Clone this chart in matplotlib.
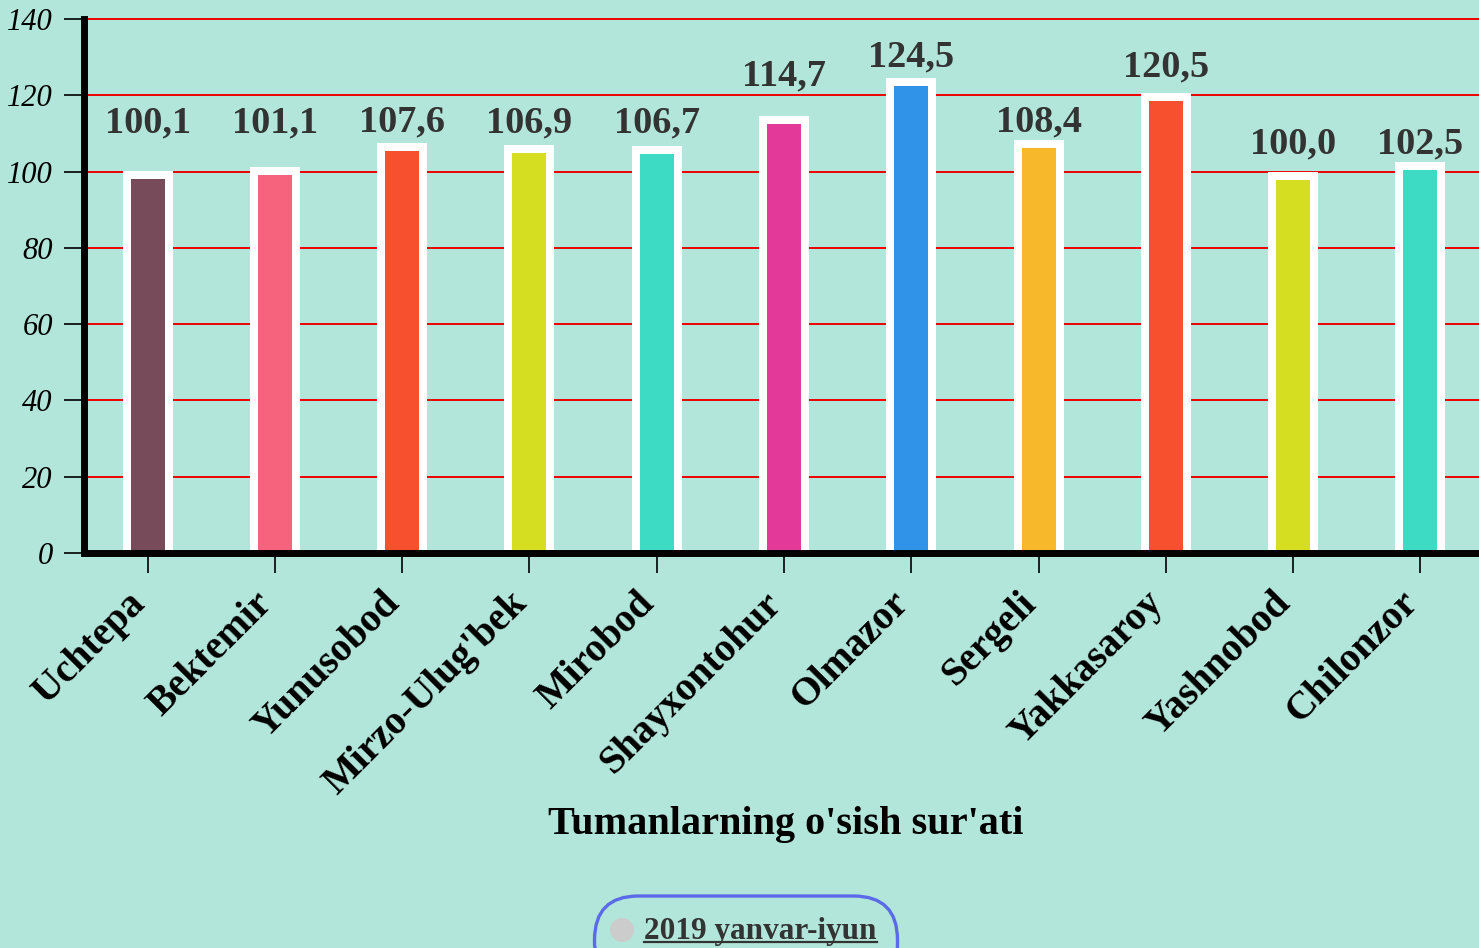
import matplotlib
matplotlib.use("Agg")
import matplotlib.pyplot as plt
from matplotlib.patches import FancyBboxPatch, Circle
from matplotlib.transforms import ScaledTranslation
import numpy as np

# data
districts = ["Uchtepa", "Bektemir", "Yunusobod", "Mirzo-Ulug'bek", "Mirobod",
             "Shayxontohur", "Olmazor", "Sergeli", "Yakkasaroy", "Yashnobod",
             "Chilonzor"]
growth = [100.1, 101.1, 107.6, 106.9, 106.7, 114.7, 124.5, 108.4, 120.5, 100.0, 102.5]
series_name = "2019 yanvar-iyun"
x_title = "Tumanlarning o'sish sur'ati"
y_ticks = [0, 20, 40, 60, 80, 100, 120, 140]

# styles
bar_colors = ["#774b59", "#f6637c", "#f7502e", "#d6de22", "#3ddbc3", "#e33999",
              "#3193e8", "#f7b82c", "#f7502e", "#d6de22", "#3ddbc3"]
label_gap_px = [39, 35, 11, 13, 14, 30, 12, 8, 17, 18, 9]   # label baseline above bar top
bg = "#b3e6da"
W, H = 1479, 948
dpi = 100

plt.rcParams["font.family"] = ["Liberation Serif", "DejaVu Serif"]

fig = plt.figure(figsize=(W / dpi, H / dpi), dpi=dpi, facecolor=bg)
left, right, bottom, top = 84, 1484, 553, 19
ax = fig.add_axes([left / W, 1 - bottom / H, (right - left) / W, (bottom - top) / H])
ax.set_facecolor(bg)

x = np.arange(len(districts))
band_px = (right - left) / len(districts)
px_per_unit = (bottom - top) / 140.0
border_px = 8

ax.bar(x, growth, width=50 / band_px, color="white", zorder=2)
inner = [v - border_px / px_per_unit for v in growth]
ax.bar(x, inner, width=34 / band_px, color=bar_colors, zorder=3)

for xi, v, g in zip(x, growth, label_gap_px):
    ax.annotate(f"{v:.1f}".replace(".", ","), (xi, v), xytext=(0, g * 0.72),
                textcoords="offset points", ha="center", va="baseline",
                fontsize=27.5, fontweight="bold", color="#333333", zorder=4)

ax.set_xlim(-0.5, len(districts) - 0.5)
ax.set_ylim(0, 140)
ax.set_yticks(y_ticks)
ax.set_yticklabels([str(t) for t in y_ticks], fontsize=22, fontstyle="italic")
ax.set_xticks(x)
ax.set_xticklabels(districts, rotation=45, ha="right", va="center",
                   rotation_mode="anchor", fontsize=28.5, fontweight="bold")
ax.tick_params(axis="y", length=14.4, width=1.2, pad=8, colors="black")
ax.tick_params(axis="x", length=14.4, width=1.2, pad=18, colors="black")
shift = ScaledTranslation(-8 / dpi, 0, fig.dpi_scale_trans)
for lab in ax.get_xticklabels():
    lab.set_transform(lab.get_transform() + shift)

ax.grid(axis="y", color="#ee0000", linewidth=1.4, zorder=1)
ax.set_axisbelow(True)
for gl in ax.get_ygridlines():
    gl.set_clip_on(False)
for s in ["top", "right"]:
    ax.spines[s].set_visible(False)
for s in ["left", "bottom"]:
    ax.spines[s].set_linewidth(5)
    ax.spines[s].set_color("black")
    ax.spines[s].set_zorder(5)

ax.set_xlabel(x_title, fontsize=29, fontweight="bold", va="baseline")
ax.xaxis.set_label_coords((786 - left) / (right - left), -(834 - bottom) / (bottom - top))

# legend pill, drawn on a pixel-space overlay
ov = fig.add_axes([0, 0, 1, 1], facecolor="none")
ov.set_xlim(0, W)
ov.set_ylim(H, 0)
ov.axis("off")
ov.add_patch(FancyBboxPatch((594.5, 896), 303, 92, boxstyle="round,pad=0,rounding_size=44",
                            facecolor="none", edgecolor="#5a6ae8", linewidth=2.4,
                            clip_on=False))
ov.add_patch(Circle((622, 930), 12, facecolor="#cccccc", edgecolor="none"))
lt = ov.text(644, 939, series_name, fontsize=22.5, fontweight="bold",
             color="#333333", ha="left", va="baseline")
fig.canvas.draw()
bb = lt.get_window_extent().transformed(ov.transData.inverted())
ov.plot([bb.x0, bb.x1], [942, 942], color="#333333", linewidth=1.6)

fig.savefig("out.png", dpi=dpi, facecolor=bg)
